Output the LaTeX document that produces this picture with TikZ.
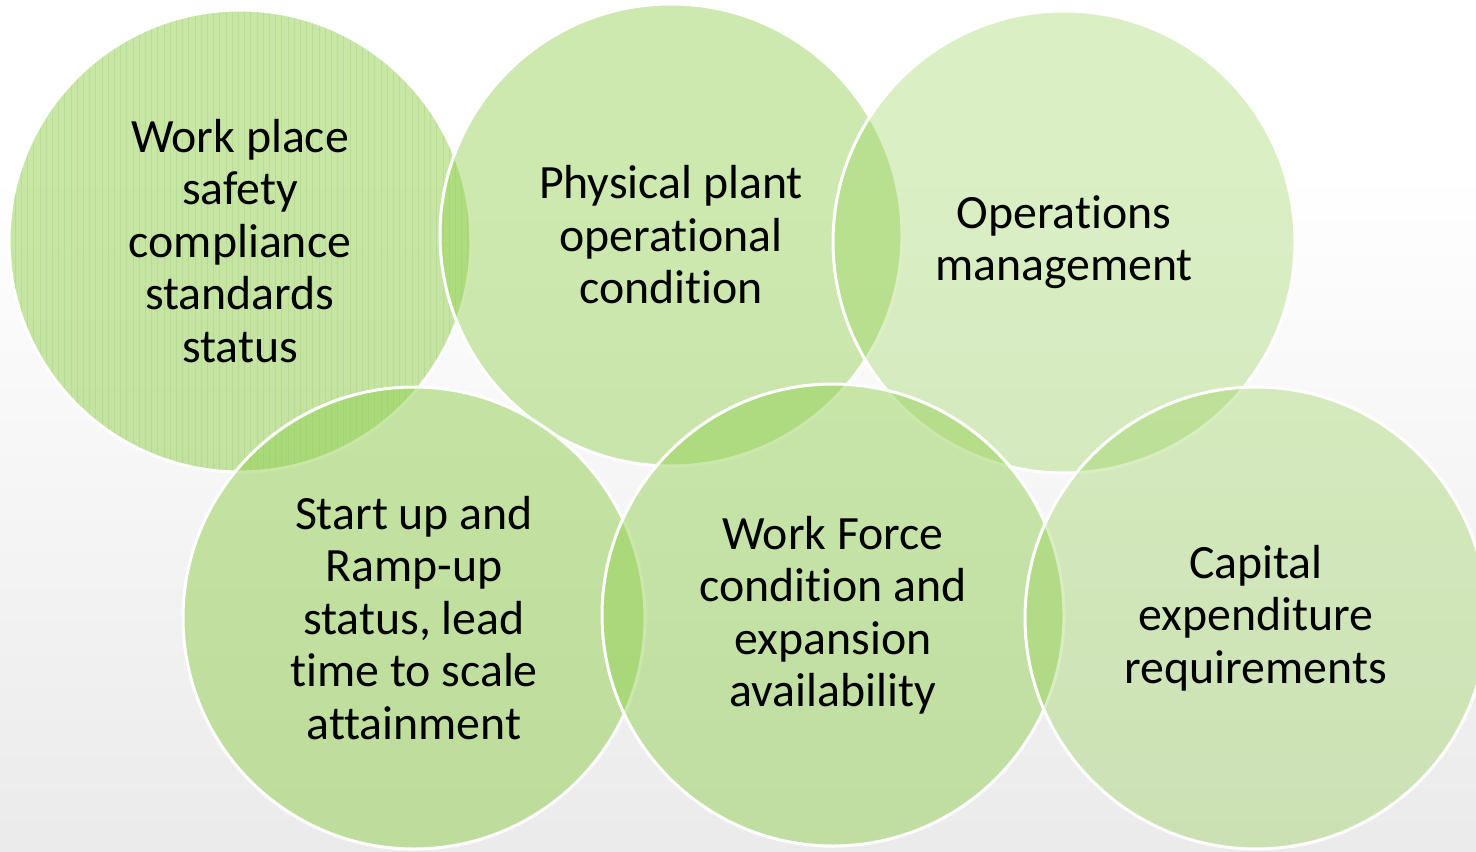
\documentclass[tikz,border=0pt]{standalone}
\usepackage{fontspec}
\newfontfamily\vennfont[Ligatures=NoCommon,RawFeature={-clig;-dlig}]{Carlito}
\definecolor{vgreen}{RGB}{146,208,80}
\definecolor{vstripe}{RGB}{120,190,60}
\pgfdeclareverticalshading{bgshade}{100bp}{color(0bp)=(black!13); color(45bp)=(black!4); color(65bp)=(white); color(100bp)=(white)}
\tikzset{
  venn/.style={circle, minimum size=231pt, inner sep=0pt, draw=white, line width=1.5pt,
    fill=vgreen, text=black, text opacity=1, align=center,
    font=\vennfont\fontsize{23.9}{26.25}\selectfont},
  stripes/.style={path picture={
    \foreach \i in {0,...,76}{
      \draw[vstripe, line width=0.5pt, opacity=0.2]
        ([xshift=\i*3.1pt]path picture bounding box.south west) --
        ([xshift=\i*3.1pt]path picture bounding box.north west);}}},
}
\begin{document}
\begin{tikzpicture}[x=0.5pt,y=-0.5pt]
\useasboundingbox (0,0) rectangle (1476,851);
\path[shading=bgshade] (0,0) rectangle (1476,851);
\node[venn, fill opacity=0.5, stripes] (c1) at (240,241) {Work place\\safety\\compliance\\standards\\status};
\node[venn, fill opacity=0.45] (c2) at (671,235) {Physical plant\\operational\\condition};
\node[venn, fill opacity=0.33] (c3) at (1064,242) {Operations\\management};
\node[venn, fill opacity=0.50] (c4) at (414,618) {Start up and\\Ramp-up\\status, lead\\time to scale\\attainment};
\node[venn, fill opacity=0.47] (c5) at (833,615) {Work Force\\condition and\\expansion\\availability};
\node[venn, fill opacity=0.35] (c6) at (1256,618) {Capital\\expenditure\\requirements};
\end{tikzpicture}
\end{document}
